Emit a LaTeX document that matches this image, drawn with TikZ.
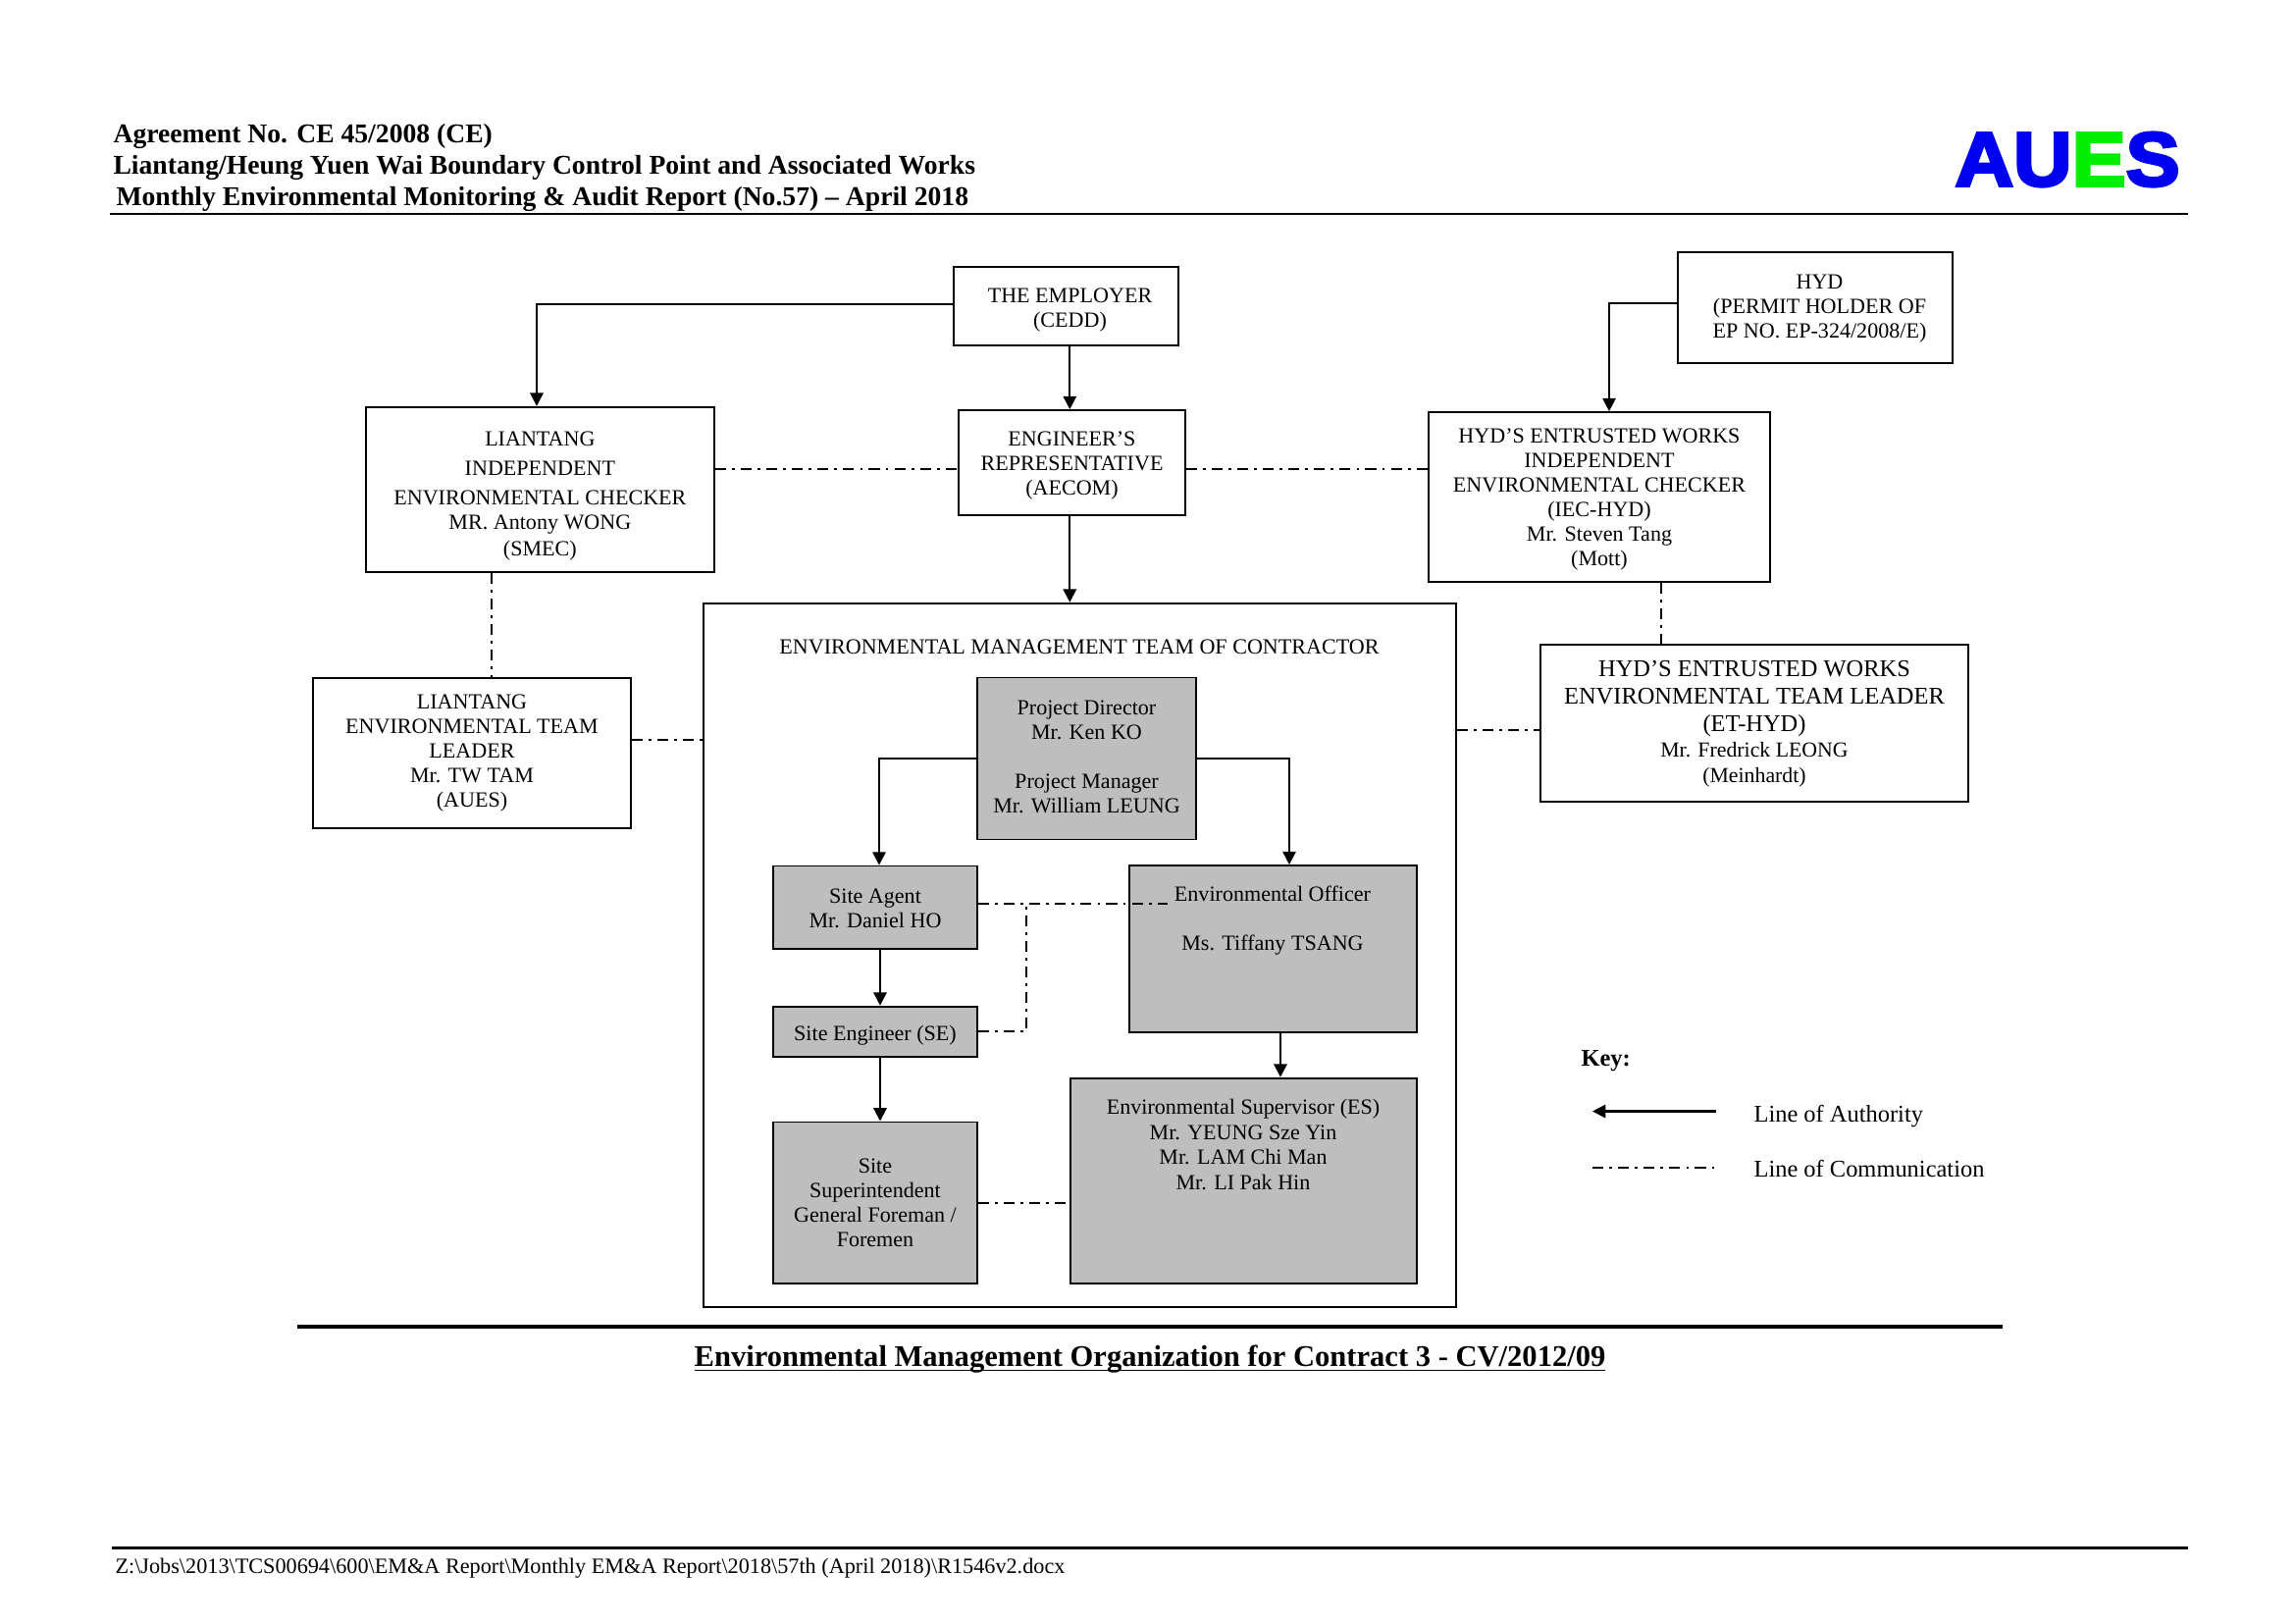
\documentclass[tikz,border=0pt]{standalone}
\usepackage{fontspec}
\setmainfont{Liberation Serif}
\newfontfamily\logofont[BoldFeatures={FakeBold=4,FakeStretch=1.06}]{Liberation Sans}
\usetikzlibrary{arrows.meta}
\definecolor{boxgray}{HTML}{BEBEBE}
\definecolor{logoblue}{HTML}{0000F0}
\definecolor{logogreen}{HTML}{00EE00}
\newcommand{\topgap}[1]{\rule{0pt}{#1}}
\tikzset{
  sized/.style 2 args={minimum width=#1*0.36pt, minimum height=#2*0.36pt},
  box/.style={draw, line width=0.65pt, inner sep=0pt, align=center, font=\fontsize{7.95}{9}\selectfont},
  graybox/.style={box, fill=boxgray},
  txt/.style={inner sep=0pt, align=center, font=\fontsize{7.95}{9}\selectfont},
  keytxt/.style={inner sep=0pt, anchor=west, font=\fontsize{8.8}{10}\selectfont},
  auth/.style={line width=0.8pt, -{Triangle[length=4.8pt,width=4.8pt]}},
  comm/.style={line width=0.65pt, dash pattern=on 4pt off 2.2pt on 1pt off 2.2pt},
  headline/.style={anchor=west, inner sep=0pt, font=\fontsize{9.95}{11}\bfseries\selectfont}
}
\begin{document}
\begin{tikzpicture}[x=0.36pt, y=-0.36pt]
    \useasboundingbox (0,0) rectangle (2339,1654);
    % page header and footer
    \node[headline] (hdra) at (115,138.5) {Agreement No. CE 45/2008 (CE)};
    \node[headline] (hdrb) at (115,170.5) {Liantang/Heung Yuen Wai Boundary Control Point and Associated Works};
    \node[headline] (hdrc) at (118,202.5) {Monthly Environmental Monitoring \& Audit Report (No.57) -- April 2018};
    \node[anchor=west, inner sep=0pt, font=\logofont\bfseries\fontsize{28}{28}\selectfont] (logo) at (1992,162.5) {\textcolor{logoblue}{AU}\textcolor{logogreen}{E}\textcolor{logoblue}{S}};
    \draw[line width=1pt] (112,218) -- (2230,218);
    \draw[line width=0.75pt] (114,1577.5) -- (2230,1577.5);
    \node[anchor=west, inner sep=0pt, font=\fontsize{8}{9}\selectfont] (foot) at (117,1598.5) {Z:\textbackslash Jobs\textbackslash 2013\textbackslash TCS00694\textbackslash 600\textbackslash EM\&A Report\textbackslash Monthly EM\&A Report\textbackslash 2018\textbackslash 57th (April 2018)\textbackslash R1546v2.docx};

    % upper boxes
    \node[box, sized={229}{80}] (emp) at (1086.6,311.7) {};
    \node[txt] (emptext) at (1090.5,316) {THE EMPLOYER\\(CEDD)};
    \node[box, sized={355}{168}] (liec) at (550.4,498.7) {\topgap{10.2pt}LIANTANG\\[1.8pt]INDEPENDENT\\[1.5pt]ENVIRONMENTAL CHECKER\\MR. Antony WONG\\[0.7pt](SMEC)};
    \node[box, sized={230.4}{107}] (eng) at (1092.5,471.5) {\topgap{7.4pt}ENGINEER’S\\REPRESENTATIVE\\(AECOM)};
    \node[box, sized={280}{113}] (hyd) at (1850,313.2) {};
    \node[txt] (hydtext) at (1854.5,314.5) {HYD\\(PERMIT HOLDER OF\\EP NO. EP-324/2008/E)};
    \node[box, sized={348}{172.7}] (ieh) at (1630,506.4) {\topgap{7.4pt}HYD’S ENTRUSTED WORKS\\INDEPENDENT\\ENVIRONMENTAL CHECKER\\(IEC-HYD)\\Mr. Steven Tang\\(Mott)};
    \node[box, sized={324}{153}] (etl) at (481,767.25) {LIANTANG\\ENVIRONMENTAL TEAM\\LEADER\\Mr. TW TAM\\(AUES)};
    \node[box, sized={436}{160}, font=\fontsize{8.8}{10.2}\selectfont] (ethyd) at (1788,737.3) {HYD’S ENTRUSTED WORKS\\ENVIRONMENTAL TEAM LEADER\\(ET-HYD)\\[-1pt]{\fontsize{7.85}{9}\selectfont Mr. Fredrick LEONG}\\[-1pt]{\fontsize{7.85}{9}\selectfont (Meinhardt)}};

    % contractor team
    \node[box, sized={766.4}{717}] (team) at (1100.5,973.2) {};
    \node[txt] (teamtitle) at (1100,659.5) {ENVIRONMENTAL MANAGEMENT TEAM OF CONTRACTOR};
    \node[graybox, sized={223}{165}] (pd) at (1107.5,773) {Project Director\\Mr. Ken KO\\[9pt]Project Manager\\Mr. William LEUNG\rule[-1pt]{0pt}{1pt}};
    \node[graybox, sized={208}{84.5}] (agent) at (892,924.75) {\topgap{6.2pt}Site Agent\\Mr. Daniel HO};
    \node[graybox, sized={208}{51.4}] (se) at (892,1051.3) {\topgap{8.4pt}Site Engineer (SE)};
    \node[graybox, sized={208}{164.6}] (ss) at (892,1225.7) {Site\\Superintendent\\General Foreman /\\Foremen};
    \node[graybox, sized={293}{169.6}] (eo) at (1297.5,966.8) {};
    \node[txt] (eotext) at (1297,938.5) {Environmental Officer\\[9pt]Ms. Tiffany TSANG};
    \node[graybox, sized={353}{209.6}] (es) at (1267.5,1203.4) {};
    \node[txt, font=\fontsize{7.95}{9.3}\selectfont] (estext) at (1267,1166.5) {Environmental Supervisor (ES)\\Mr. YEUNG Sze Yin\\Mr. LAM Chi Man\\Mr. LI Pak Hin};

    % key
    \node[keytxt, font=\fontsize{8.8}{10}\bfseries\selectfont] (keytitle) at (1611,1081) {Key:};
    \node[keytxt] (keyauth) at (1787,1138) {Line of Authority};
    \node[keytxt] (keycomm) at (1787,1191) {Line of Communication};
    \coordinate (ka) at (1749,1132.5); \coordinate (kb) at (1623,1132.5);
    \coordinate (kc) at (1623,1190); \coordinate (kd) at (1750,1190);

    % where the connectors run
    \coordinate (xemp) at (1090.3,0); \coordinate (xliec) at (547,0); \coordinate (xieh) at (1640,0);
    \coordinate (xagent) at (896,0); \coordinate (xse) at (897,0); \coordinate (xeo) at (1314,0); \coordinate (xes) at (1305,0);
    \coordinate (ychk) at (0,478.3); \coordinate (yhyd) at (0,309.3); \coordinate (yemp) at (0,310);
    \coordinate (xleft) at (501.3,0); \coordinate (xright) at (1692.7,0);
    \coordinate (yetl) at (0,754); \coordinate (yethyd) at (0,744);
    \coordinate (jun) at (1046,920.7); \coordinate (eoend) at (1190,920.7);

    \draw[auth] (emp.west |- yemp) -| (xliec |- liec.north);
    \draw[auth] (xemp |- emp.south) -- (xemp |- eng.north);
    \draw[auth] (xemp |- eng.south) -- (xemp |- team.north);
    \draw[auth] (hyd.west |- yhyd) -| (xieh |- ieh.north);
    \draw[auth] (pd.west) -| (xagent |- agent.north);
    \draw[auth] (pd.east) -| (xeo |- eo.north);
    \draw[auth] (xse |- agent.south) -- (xse |- se.north);
    \draw[auth] (xse |- se.south) -- (xse |- ss.north);
    \draw[auth] (xes |- eo.south) -- (xes |- es.north);
    \draw[auth] (ka) -- (kb);

    \draw[comm] (liec.east |- ychk) -- (eng.west |- ychk);
    \draw[comm] (eng.east |- ychk) -- (ieh.west |- ychk);
    \draw[comm] (xleft |- liec.south) -- (xleft |- etl.north);
    \draw[comm] (xright |- ieh.south) -- (xright |- ethyd.north);
    \draw[comm] (etl.east |- yetl) -- (team.west |- yetl);
    \draw[comm] (team.east |- yethyd) -- (ethyd.west |- yethyd);
    \draw[comm] (agent.east |- jun) -- (eoend);
    \draw[comm] (se.east) -| (jun);
    \draw[comm] (ss.east) -- (es.west |- ss.east);
    \draw[comm] (kc) -- (kd);

    % caption
    \draw[line width=1.4pt] (303,1351.7) -- (2041,1351.7);
    \node[inner sep=0pt, font=\fontsize{11}{13}\bfseries\selectfont] (caption) at (1172,1395) {\underline{\smash{Environmental Management Organization for Contract 3 - CV/2012/09}}};
\end{tikzpicture}
\end{document}
